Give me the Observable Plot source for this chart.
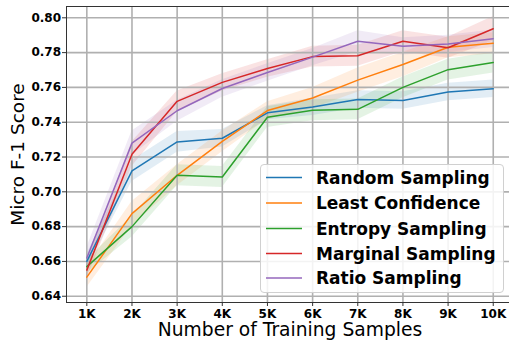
<!DOCTYPE html>
<html>
<head>
<meta charset="utf-8">
<script src="https://cdn.jsdelivr.net/npm/d3@7"></script>
<script src="https://cdn.jsdelivr.net/npm/@observablehq/plot@0.6"></script>
<style>
  html, body { margin: 0; padding: 0; background: #fff; }
  #chart { position: relative; width: 509px; height: 345px; font-family: "DejaVu Sans", sans-serif; }
  #chart > svg { position: absolute; left: 0; top: 0; }
  .legend {
    position: absolute; left: 260px; top: 164px; width: 244px; height: 129px;
    background: rgba(255,255,255,0.85); border: 1px solid #d0d0d0; border-radius: 4px;
    box-sizing: border-box;
  }
  .legend svg.swatches { position: absolute; left: 0; top: 0; }
  .legend .label { position: absolute; left: 55px; white-space: nowrap; font-weight: bold; font-size: 17px; color: #000; line-height: 22px; }
</style>
</head>
<body>
<div id="chart"></div>
<script>
// Training set sizes (thousands) and tick labels
const samples = [1, 2, 3, 4, 5, 6, 7, 8, 9, 10];
const xTickLabels = ["1K", "2K", "3K", "4K", "5K", "6K", "7K", "8K", "9K", "10K"];
const yTicks = [0.64, 0.66, 0.68, 0.70, 0.72, 0.74, 0.76, 0.78, 0.80];

// Query strategies and their colours
const strategies = ["Random Sampling", "Least Confidence", "Entropy Sampling", "Marginal Sampling", "Ratio Sampling"];
const colors = ["#1f77b4", "#ff7f0e", "#2ca02c", "#d62728", "#9467bd"];

// Mean micro F-1 per training size
const randomF1   = [0.660, 0.712, 0.7287, 0.7308, 0.7454, 0.7488, 0.7531, 0.7525, 0.7574, 0.7592];
const leastF1    = [0.651, 0.6875, 0.7095, 0.7290, 0.7467, 0.7539, 0.7642, 0.7732, 0.7831, 0.7854];
const entropyF1  = [0.657, 0.680, 0.7095, 0.7085, 0.7429, 0.7469, 0.7474, 0.7600, 0.7702, 0.7743];
const marginalF1 = [0.655, 0.7216, 0.7520, 0.7629, 0.7709, 0.7777, 0.7782, 0.7865, 0.7828, 0.7937];
const ratioF1    = [0.662, 0.728, 0.7466, 0.7594, 0.7686, 0.7774, 0.7865, 0.7836, 0.7850, 0.7880];

// Half-width of the shaded spread around each mean
const randomSpread   = [0.004, 0.006, 0.006, 0.005, 0.004, 0.005, 0.005, 0.005, 0.005, 0.005];
const leastSpread    = [0.006, 0.007, 0.006, 0.006, 0.005, 0.006, 0.007, 0.007, 0.006, 0.006];
const entropySpread  = [0.004, 0.006, 0.006, 0.006, 0.006, 0.006, 0.006, 0.006, 0.006, 0.006];
const marginalSpread = [0.005, 0.007, 0.006, 0.005, 0.005, 0.006, 0.006, 0.006, 0.006, 0.007];
const ratioSpread    = [0.006, 0.007, 0.006, 0.005, 0.005, 0.005, 0.006, 0.005, 0.005, 0.005];

const means = [randomF1, leastF1, entropyF1, marginalF1, ratioF1];
const spreads = [randomSpread, leastSpread, entropySpread, marginalSpread, ratioSpread];

const rows = strategies.flatMap((s, i) =>
  samples.map((k, j) => ({
    strategy: s,
    k,
    f1: means[i][j],
    lo: means[i][j] - spreads[i][j],
    hi: means[i][j] + spreads[i][j]
  }))
);

const grid = {stroke: "#b0b0b0", strokeOpacity: 1, strokeWidth: 1.6};
const frame = {stroke: "#333", strokeWidth: 1};

const plot = Plot.plot({
  width: 509,
  height: 345,
  marginTop: 6,
  marginBottom: 43,
  marginLeft: 66,
  marginRight: 0,
  style: {fontFamily: "DejaVu Sans", background: "transparent", overflow: "visible"},
  x: {domain: [0.55, 10.36]},
  y: {domain: [0.6364, 0.8065]},
  color: {domain: strategies, range: colors},
  marks: [
    Plot.areaY(rows, {x: "k", y1: "lo", y2: "hi", z: "strategy", fill: "strategy", fillOpacity: 0.13}),
    Plot.gridX(samples, grid),
    Plot.gridY(yTicks, grid),
    Plot.lineY(rows, {x: "k", y: "f1", z: "strategy", stroke: "strategy", strokeWidth: 1.5}),
    Plot.frame({anchor: "left", ...frame}),
    Plot.frame({anchor: "top", ...frame}),
    Plot.frame({anchor: "bottom", ...frame}),
    Plot.axisX(samples, {
      tickFormat: (d) => xTickLabels[samples.indexOf(d)],
      tickSize: 4, tickPadding: 3, fontSize: 12, fontWeight: "bold", stroke: "#333", label: null, fill: "#000"
    }),
    Plot.axisY(yTicks, {
      tickFormat: d3.format(".2f"),
      tickSize: 4, tickPadding: 1.5, fontSize: 12, fontWeight: "bold", stroke: "#333", label: null, fill: "#000"
    }),
    Plot.text(["Number of Training Samples"], {
      frameAnchor: "bottom", textAnchor: "middle", dx: 2, dy: 28, lineAnchor: "middle", fontSize: 18.7, fill: "#000"
    }),
    Plot.text(["Micro F-1 Score"], {
      frameAnchor: "left", textAnchor: "middle", dx: -48, rotate: -90, lineAnchor: "middle", fontSize: 18.5, fill: "#000"
    })
  ]
});

const chart = document.getElementById("chart");
chart.appendChild(plot);

// Legend box: a line swatch and a bold label per strategy
const legend = document.createElement("div");
legend.className = "legend";
const rowY = [12.5, 38, 63.5, 88.5, 113];
const ns = "http://www.w3.org/2000/svg";
const sw = document.createElementNS(ns, "svg");
sw.setAttribute("class", "swatches");
sw.setAttribute("width", 50);
sw.setAttribute("height", 127);
strategies.forEach((s, i) => {
  const ln = document.createElementNS(ns, "line");
  ln.setAttribute("x1", 5);
  ln.setAttribute("x2", 41);
  ln.setAttribute("y1", rowY[i]);
  ln.setAttribute("y2", rowY[i]);
  ln.setAttribute("stroke", colors[i]);
  ln.setAttribute("stroke-width", 1.5);
  sw.appendChild(ln);
  const lab = document.createElement("div");
  lab.className = "label";
  lab.style.top = (rowY[i] - 11) + "px";
  lab.textContent = s;
  legend.appendChild(lab);
});
legend.appendChild(sw);
chart.appendChild(legend);
</script>
</body>
</html>
